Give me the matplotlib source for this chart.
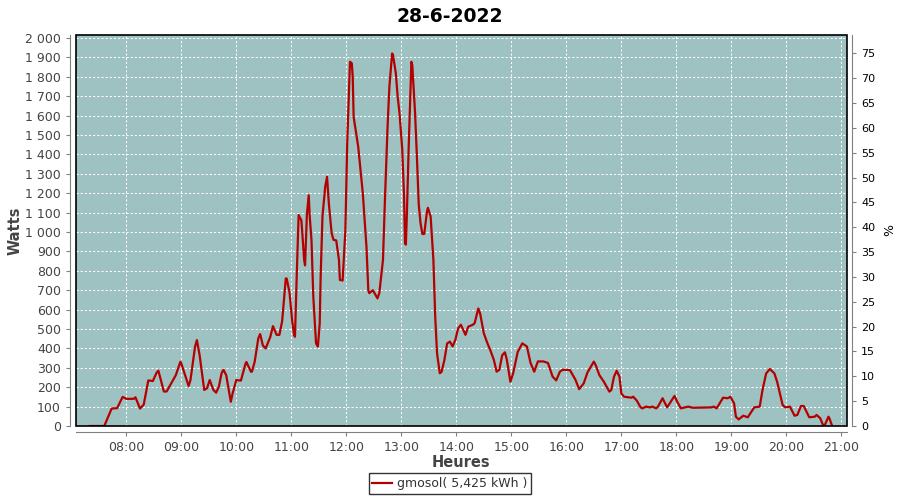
import pandas as pd
import matplotlib
matplotlib.use("Agg")
import matplotlib.pyplot as plt
import matplotlib.dates as mdates
from matplotlib.ticker import FuncFormatter, MultipleLocator
from matplotlib.patches import Rectangle

# donnees
day = "2022-06-28"
times = [
    "07:20", "07:36", "07:44", "07:50", "07:56", "08:00", "08:08", "08:10", "08:15", "08:19",
    "08:24", "08:29", "08:33", "08:35", "08:41", "08:44", "08:51", "08:54", "08:59", "09:00",
    "09:08", "09:10", "09:15", "09:17", "09:20", "09:25", "09:28", "09:31", "09:35", "09:38",
    "09:41", "09:44", "09:46", "09:49", "09:54", "09:56", "10:00", "10:05", "10:10", "10:11",
    "10:16", "10:17", "10:20", "10:24", "10:26", "10:29", "10:32", "10:37", "10:40", "10:44",
    "10:47", "10:50", "10:54", "10:55", "10:58", "11:01", "11:03", "11:04", "11:06", "11:08",
    "11:11", "11:12", "11:14", "11:15", "11:17", "11:19", "11:20", "11:22", "11:24", "11:27",
    "11:29", "11:31", "11:32", "11:34", "11:37", "11:39", "11:41", "11:44", "11:46", "11:49",
    "11:52", "11:53", "11:56", "11:59", "12:01", "12:03", "12:04", "12:06", "12:07", "12:08",
    "12:13", "12:18", "12:22", "12:24", "12:25", "12:29", "12:34", "12:36", "12:40", "12:42",
    "12:45", "12:47", "12:50", "12:51", "12:54", "12:56", "12:58", "13:01", "13:03", "13:04",
    "13:05", "13:06", "13:08", "13:10", "13:11", "13:12", "13:15", "13:17", "13:19", "13:21",
    "13:23", "13:25", "13:28", "13:29", "13:32", "13:35", "13:37", "13:39", "13:42", "13:44",
    "13:47", "13:50", "13:53", "13:56", "13:59", "14:02", "14:05", "14:10", "14:13", "14:18",
    "14:20", "14:24", "14:26", "14:30", "14:34", "14:37", "14:41", "14:44", "14:47", "14:50",
    "14:53", "14:55", "14:59", "15:02", "15:07", "15:12", "15:17", "15:21", "15:25", "15:29",
    "15:35", "15:40", "15:45", "15:49", "15:53", "15:56", "16:04", "16:10", "16:14", "16:19",
    "16:23", "16:30", "16:32", "16:36", "16:41", "16:47", "16:49", "16:52", "16:55", "16:58",
    "17:00", "17:03", "17:11", "17:13", "17:17", "17:21", "17:23", "17:27", "17:31", "17:34",
    "17:38", "17:40", "17:45", "17:50", "17:54", "17:58", "18:01", "18:05", "18:13", "18:18",
    "18:38", "18:41", "18:44", "18:51", "18:56", "18:59", "19:03", "19:05", "19:08", "19:13",
    "19:18", "19:25", "19:31", "19:34", "19:38", "19:42", "19:47", "19:50", "19:56", "19:59",
    "20:04", "20:09", "20:12", "20:16", "20:19", "20:25", "20:31", "20:33", "20:37", "20:40",
    "20:42", "20:46", "20:47", "20:50",
]
watts = [
    0, 0, 90, 92, 150, 140, 140, 148, 90, 110,
    235, 232, 275, 285, 178, 178, 237, 262, 331, 322,
    206, 237, 409, 443, 365, 186, 194, 237, 186, 172,
    203, 273, 290, 262, 125, 168, 237, 234, 320, 330,
    280, 280, 330, 452, 474, 415, 400, 458, 515, 470,
    470, 540, 761, 760, 690, 540, 470, 460, 787, 1088,
    1060, 995, 856, 828, 1090, 1190, 1088, 960, 667, 426,
    410, 530, 768, 1080, 1234, 1285, 1145, 995, 960, 957,
    856, 753, 750, 1010, 1457, 1732, 1878, 1870, 1800, 1594,
    1440, 1200, 924, 701, 685, 700, 658, 685, 856, 1145,
    1543, 1750, 1921, 1910, 1820, 1700, 1615, 1428, 1182, 942,
    935, 1080, 1428, 1732, 1878, 1860, 1615, 1390, 1145, 1045,
    990, 990, 1105, 1125, 1080, 856, 563, 374, 272, 280,
    340, 426, 435, 410, 445, 504, 522, 470, 512, 522,
    530, 606, 580, 478, 426, 392, 340, 280, 290, 364,
    380, 345, 228, 272, 382, 426, 410, 325, 280, 333,
    333, 325, 255, 235, 280, 290, 288, 238, 190, 220,
    275, 332, 315, 263, 228, 177, 185, 254, 285, 254,
    168, 151, 146, 151, 130, 96, 91, 100, 96, 100,
    91, 100, 143, 96, 125, 155, 125, 91, 100, 94,
    96, 100, 91, 146, 143, 151, 117, 48, 34, 53,
    45, 96, 100, 185, 271, 294, 271, 228, 108, 96,
    100, 53, 57, 103, 103, 45, 48, 57, 40, 5,
    5, 48, 40, 0,
]
title = "28-6-2022"
series_label = "gmosol( 5,425 kWh )"

x = pd.to_datetime([day + " " + t for t in times])

bg = "#9ec2c1"
red = "#b30000"
grey = "#444444"
axis_grey = "#808080"

fig = plt.figure(figsize=(9, 5), dpi=100)
ax = fig.add_axes([0.0839, 0.148, 0.8567, 0.782])
ax.set_facecolor(bg)

line, = ax.plot(x, watts, color=red, lw=1.6, label=series_label)

ax.set_xlim(pd.Timestamp(day + " 07:04:36"), pd.Timestamp(day + " 21:05:42"))
ax.set_ylim(0, 2016)
ax.yaxis.set_major_locator(MultipleLocator(100))
ax.yaxis.set_major_formatter(FuncFormatter(lambda v, p: f"{int(v):,}".replace(",", " ")))
ax.xaxis.set_major_locator(mdates.HourLocator(byhour=range(8, 22)))
ax.xaxis.set_major_formatter(mdates.DateFormatter("%H:%M"))
ax.grid(True, color="white", ls=(0, (2, 2)), lw=0.75)

for s in ["top", "right"]:
    ax.spines[s].set_visible(False)
for s in ["left", "bottom"]:
    ax.spines[s].set_position(("outward", 4))
    ax.spines[s].set_color(axis_grey)
ax.tick_params(axis="both", colors=axis_grey, labelcolor=grey, labelsize=9, length=3, width=0.8)

ax.set_ylabel("Watts", fontsize=10.5, fontweight="bold", color=grey, labelpad=2)
ax.set_xlabel("Heures", fontsize=10.5, fontweight="bold", color=grey, labelpad=1)

ax2 = ax.twinx()
ax2.set_ylim(0, 78.7)
ax2.yaxis.set_major_locator(MultipleLocator(5))
for s in ["top", "left", "bottom"]:
    ax2.spines[s].set_visible(False)
ax2.spines["right"].set_position(("outward", 4))
ax2.spines["right"].set_color(axis_grey)
ax2.tick_params(axis="y", colors=axis_grey, labelcolor="black", labelsize=8, length=3, width=0.8)
ax2.set_ylabel("%", fontsize=9, color="black", labelpad=6)

ax.add_patch(Rectangle((0, 0), 1, 1, transform=ax.transAxes, fill=False,
                       edgecolor="black", lw=1.2, clip_on=False, zorder=10))

fig.suptitle(title, x=0.5, y=0.985, fontsize=13.5, fontweight="bold")

leg = fig.legend(handles=[line], loc="lower center", bbox_to_anchor=(0.5, 0.0),
                 fontsize=9, frameon=True, fancybox=False, handlelength=1.6,
                 borderpad=0.3, handletextpad=0.4)
leg.get_frame().set_edgecolor("black")
leg.get_frame().set_linewidth(1)
for t in leg.get_texts():
    t.set_color("#333333")

fig.savefig("out.png", dpi=100)
